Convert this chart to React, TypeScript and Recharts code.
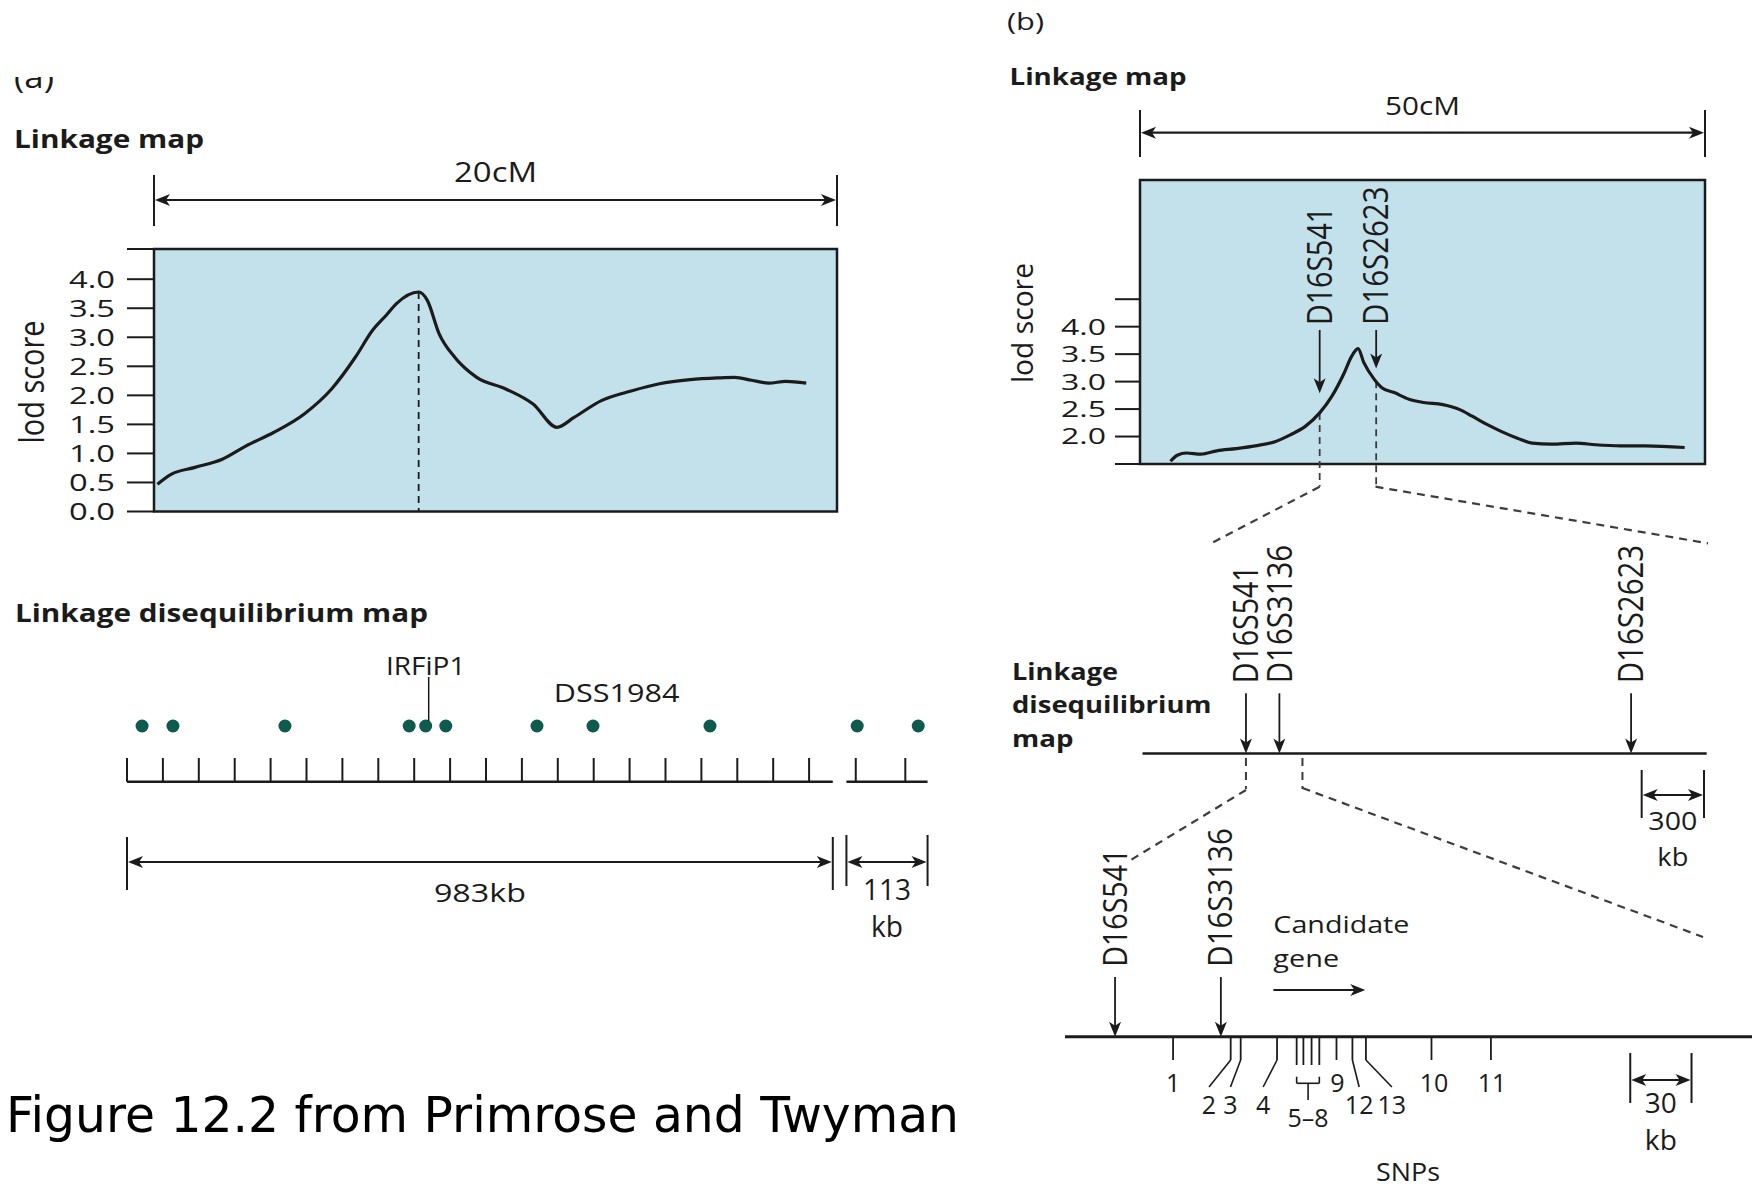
import React from "react";
import {
  LineChart,
  Line,
  ComposedChart,
  Scatter,
  XAxis,
  YAxis,
  CartesianGrid,
  ReferenceArea,
  ReferenceLine,
} from "recharts";

const W = 1752;
const H = 1190;
const FONT = "'Open Sans', 'Noto Sans', sans-serif";
const INK = "#1b1b1b";
const DASH_INK = "#3c3c3c";
const BOX_FILL = "#c3e1eb";
const DOT_FILL = "#0e5a4c";

// (a) linkage map: lod score along a 20 cM window
const cmA = [0.1, 0.5, 1.2, 2.0, 2.7, 3.5, 4.4, 5.2, 5.9, 6.4, 6.8, 7.1, 7.75, 8.0, 8.35, 8.8, 9.45, 10.3, 11.1, 11.8, 12.3, 13.1, 14.0, 14.8, 15.7, 16.5, 17.0, 17.5, 18.0, 18.5, 19.1];
const lodA = [0.47, 0.64, 0.76, 0.9, 1.13, 1.36, 1.68, 2.11, 2.66, 3.12, 3.38, 3.58, 3.78, 3.64, 3.06, 2.66, 2.31, 2.11, 1.85, 1.45, 1.62, 1.91, 2.08, 2.2, 2.27, 2.3, 2.31, 2.26, 2.21, 2.24, 2.21];
const lodTicksA = [0, 0.5, 1, 1.5, 2, 2.5, 3, 3.5, 4];
const lodTopA = 4.52;

// (a) linkage disequilibrium map, positions in kb
const ldDotsKbA = [21, 64, 220, 393, 416, 444, 571, 649, 812, 1017, 1102];
const ldRulerTicksA = [0, 50, 100, 150, 200, 250, 300, 350, 400, 450, 500, 550, 600, 650, 700, 750, 800, 850, 900, 950, 1015, 1084];
const ldSegmentsA = [
  [0, 983],
  [1002, 1115],
];
const ldNamesA = ["IRFiP1", "DSS1984"];
const ldNameKbA = [416, 682];
const ldNameLeaderA = [true, false];

// (b) linkage map: lod score along a 50 cM window
const cmB = [2.7, 3.3, 4.1, 5.4, 6.8, 8.5, 10.2, 12.0, 13.3, 14.6, 15.9, 17.0, 18.1, 18.7, 19.3, 19.8, 20.7, 21.4, 22.5, 23.8, 25.1, 26.8, 28.3, 29.4, 30.7, 32.0, 33.4, 34.7, 36.4, 38.6, 40.3, 42.5, 44.7, 48.2];
const lodB = [1.55, 1.66, 1.7, 1.68, 1.74, 1.78, 1.83, 1.91, 2.03, 2.18, 2.43, 2.74, 3.17, 3.45, 3.6, 3.35, 3.05, 2.89, 2.8, 2.68, 2.62, 2.58, 2.49, 2.37, 2.22, 2.09, 1.97, 1.88, 1.86, 1.88, 1.85, 1.83, 1.83, 1.8];
const lodTicksB = [2, 2.5, 3, 3.5, 4];
const lodMinB = 1.5;
const lodTopB = 6.67;
const lodBlankTickB = 4.5;
const markerNamesB = ["D16S541", "D16S2623"];
const markerCmB = [15.9, 20.9];
const markerTipLodB = [2.79, 3.24];

// (b) linkage disequilibrium map, positions in kb
const ldNamesB = ["D16S541", "D16S3136", "D16S2623"];
const ldKbB = [498, 659, 2352];
const ldWindowKbB = [498, 770];
const ldScaleKbB = [2403, 2703];

// (b) SNP map, positions in kb
const snpMarkerNames = ["D16S541", "D16S3136"];
const snpMarkerKb = [24.5, 76.3];
const snpIds = ["1", "2", "3", "4", "5", "6", "7", "8", "9", "10", "11", "12", "13"];
const snpKb = [52.9, 81.1, 86.0, 103.8, 113.4, 116.7, 120.7, 124.5, 132.9, 179.4, 208.5, 140.7, 147.3];
const snpLabelText = ["1", "2", "3", "4", "5–8", "9", "10", "11", "12", "13"];
const snpLabelKb = [52.9, 70.5, 81, 97, 119, 133.4, 180.6, 209, 144, 160];
const snpLabelRow = [1, 2, 2, 2, 3, 1, 1, 1, 2, 2];
const geneKb = [102, 147];
const snpScaleKb = [276.7, 306.7];

const lerp = (xs: number[], ys: number[], x: number) => {
  for (let i = 1; i < xs.length; i++) {
    if (x <= xs[i]) {
      const t = (x - xs[i - 1]) / (xs[i] - xs[i - 1]);
      return ys[i - 1] + t * (ys[i] - ys[i - 1]);
    }
  }
  return ys[ys.length - 1];
};

type TxtProps = {
  x: number;
  y: number;
  size: number;
  len?: number;
  anchor?: "start" | "middle" | "end";
  bold?: boolean;
  family?: string;
  children: React.ReactNode;
};

const Txt = ({ x, y, size, len, anchor = "start", bold, family = FONT, children }: TxtProps) => (
  <text
    x={x}
    y={y}
    fontSize={size}
    fontFamily={family}
    fontWeight={bold ? 700 : 400}
    textAnchor={anchor}
    fill={INK}
    textLength={len}
    lengthAdjust={len ? "spacingAndGlyphs" : undefined}
  >
    {children}
  </text>
);

// rotated text, reading bottom to top; bx is the baseline x
const VTxt = ({ bx, y, size, len, anchor = "start", children }: { bx: number; y: number; size: number; len: number; anchor?: "start" | "middle"; children: React.ReactNode }) => (
  <text
    x={bx}
    y={y}
    transform={`rotate(-90 ${bx} ${y})`}
    fontSize={size}
    fontFamily={FONT}
    textAnchor={anchor}
    fill={INK}
    textLength={len}
    lengthAdjust="spacingAndGlyphs"
  >
    {children}
  </text>
);

const vLen = (s: string) => s.length * 20.5 - 25.5;

const headLeft = (x: number, y: number) => `${x},${y} ${x + 15},${y - 6} ${x + 11},${y} ${x + 15},${y + 6}`;
const headRight = (x: number, y: number) => `${x},${y} ${x - 15},${y - 6} ${x - 11},${y} ${x - 15},${y + 6}`;
const headDown = (x: number, y: number) => `${x},${y} ${x - 6},${y - 15} ${x},${y - 11} ${x + 6},${y - 15}`;

type DimLabel = { t: string; dy: number; size: number; len: number };

// double-headed span arrow with end bars
const dimShape = (dy: number, above: number, below: number, labels: DimLabel[]) => (p: any) => {
  const y = p.y1 + dy;
  const { x1, x2 } = p;
  const mid = (x1 + x2) / 2;
  return (
    <g>
      <line x1={x1} y1={y - above} x2={x1} y2={y + below} stroke={INK} strokeWidth={2} />
      <line x1={x2} y1={y - above} x2={x2} y2={y + below} stroke={INK} strokeWidth={2} />
      <line x1={x1 + 8} y1={y} x2={x2 - 8} y2={y} stroke={INK} strokeWidth={2.2} />
      <polygon points={headLeft(x1 + 1, y)} fill={INK} />
      <polygon points={headRight(x2 - 1, y)} fill={INK} />
      {labels.map((l) => (
        <Txt key={l.t} x={mid} y={y + l.dy} size={l.size} len={l.len} anchor="middle">
          {l.t}
        </Txt>
      ))}
    </g>
  );
};

// down arrow (segment in data units) with its marker name above
const markerLine = (name: string, size: number, gap: number) => (p: any) => (
  <g>
    <line x1={p.x1} y1={p.y1} x2={p.x2} y2={p.y2 - 10} stroke={INK} strokeWidth={1.8} />
    <polygon points={headDown(p.x2, p.y2)} fill={INK} />
    <VTxt bx={p.x1 + size * 0.36} y={p.y1 - gap} size={size} len={vLen(name)}>
      {name}
    </VTxt>
  </g>
);

// down arrow ending on a map line point
const markerDot = (arrowLen: number, gap: number, size: number) => (p: any) => (
  <g>
    <line x1={p.cx} y1={p.cy - arrowLen} x2={p.cx} y2={p.cy - 10} stroke={INK} strokeWidth={1.8} />
    <polygon points={headDown(p.cx, p.cy)} fill={INK} />
    <VTxt bx={p.cx + size * 0.36} y={p.cy - arrowLen - gap} size={size} len={vLen(p.payload.name)}>
      {p.payload.name}
    </VTxt>
  </g>
);

const lodTick = (labels: number[], len: number, size: number) => (p: any) => {
  const v = p.payload.value;
  if (!labels.includes(v)) return <g />;
  return (
    <text x={p.x} y={p.y + size * 0.36} textAnchor="end" fontSize={size} fontFamily={FONT} fill={INK} textLength={len} lengthAdjust="spacingAndGlyphs">
      {v.toFixed(1)}
    </text>
  );
};

const Layer = ({ children }: { children: React.ReactNode }) => (
  <div style={{ position: "absolute", left: 0, top: 0, width: W, height: H }}>{children}</div>
);

const curveA = cmA.map((cm, i) => ({ cm, lod: lodA[i] }));
const peakA = lodA.indexOf(Math.max(...lodA));

function LinkageA() {
  return (
    <LineChart width={W} height={H} data={curveA} margin={{ top: 249, right: W - 837, bottom: H - 511.5, left: 0 }}>
      <CartesianGrid horizontal={false} vertical={false} fill={BOX_FILL} fillOpacity={1} stroke="none" />
      <XAxis type="number" dataKey="cm" domain={[0, 20]} hide />
      <YAxis
        type="number"
        domain={[0, lodTopA]}
        ticks={[...lodTicksA, lodTopA]}
        interval={0}
        width={154}
        tickSize={27}
        tickMargin={12}
        axisLine={false}
        tickLine={{ stroke: INK, strokeWidth: 2 }}
        tick={lodTick(lodTicksA, 46, 23.5)}
      />
      <ReferenceArea x1={0} x2={20} y1={0} y2={lodTopA} fill="none" stroke={INK} strokeWidth={2.5} ifOverflow="visible" />
      <ReferenceLine
        segment={[{ x: 0, y: lodTopA }, { x: 20, y: lodTopA }]}
        ifOverflow="visible"
        shape={dimShape(-49, 25, 26, [{ t: "20cM", dy: -18.3, size: 28, len: 83 }])}
      />
      <ReferenceLine
        segment={[{ x: cmA[peakA], y: lodA[peakA] }, { x: cmA[peakA], y: 0 }]}
        stroke={INK}
        strokeWidth={1.8}
        strokeDasharray="7 5"
      />
      <Line type="monotone" dataKey="lod" stroke={INK} strokeWidth={3.2} dot={false} isAnimationActive={false} />
    </LineChart>
  );
}

function LdMapA() {
  const BASE = 781.7;
  const TICK_TOP = 758;
  const DOT_Y = 726;
  const DIM_Y = 862;
  const dots = ldDotsKbA.map((kb) => ({ kb, y: DOT_Y }));
  const names = ldNamesA.map((name, i) => ({ kb: ldNameKbA[i], y: DOT_Y, name, leader: ldNameLeaderA[i] }));
  const spanLabels: DimLabel[][] = [
    [{ t: "983kb", dy: 39.7, size: 26, len: 92 }],
    [
      { t: "113", dy: 38, size: 29, len: 48 },
      { t: "kb", dy: 74.7, size: 29, len: 32 },
    ],
  ];
  return (
    <ComposedChart width={W} height={H} margin={{ top: 0, right: W - 929, bottom: 0, left: 127 }}>
      <XAxis type="number" dataKey="kb" domain={[0, 1117]} hide />
      <YAxis type="number" dataKey="y" domain={[0, H]} reversed hide />
      {ldSegmentsA.map(([a, b]) => (
        <ReferenceLine key={"s" + a} segment={[{ x: a, y: BASE }, { x: b, y: BASE }]} stroke={INK} strokeWidth={2.5} ifOverflow="visible" />
      ))}
      {ldRulerTicksA.map((t) => (
        <ReferenceLine key={"t" + t} segment={[{ x: t, y: BASE }, { x: t, y: TICK_TOP }]} stroke={INK} strokeWidth={2} ifOverflow="visible" />
      ))}
      {ldSegmentsA.map(([a, b], i) => (
        <ReferenceLine
          key={"d" + a}
          segment={[{ x: a, y: DIM_Y }, { x: b, y: DIM_Y }]}
          ifOverflow="visible"
          shape={dimShape(0, i === 0 ? 25 : 27, i === 0 ? 28 : 24, spanLabels[i])}
        />
      ))}
      <Scatter data={dots} isAnimationActive={false} shape={(p: any) => <circle cx={p.cx} cy={p.cy} r={6.5} fill={DOT_FILL} />} />
      <Scatter
        data={names}
        isAnimationActive={false}
        shape={(p: any) =>
          p.payload.leader ? (
            <g>
              <line x1={p.cx + 3} y1={p.cy - 49} x2={p.cx + 3} y2={p.cy - 5} stroke={INK} strokeWidth={1.5} />
              <Txt x={p.cx} y={p.cy - 51} size={25} len={79.5} anchor="middle">
                {p.payload.name}
              </Txt>
            </g>
          ) : (
            <Txt x={p.cx} y={p.cy - 24.3} size={25} len={125.6} anchor="middle">
              {p.payload.name}
            </Txt>
          )
        }
      />
    </ComposedChart>
  );
}

const curveB = cmB.map((cm, i) => ({ cm, lod: lodB[i] }));

function LinkageB() {
  const ARROW_TOP = 3.94;
  const DROP_END = 1.09;
  return (
    <LineChart width={W} height={H} data={curveB} margin={{ top: 180, right: W - 1705, bottom: H - 464, left: 0 }}>
      <CartesianGrid horizontal={false} vertical={false} fill={BOX_FILL} fillOpacity={1} stroke="none" />
      <XAxis type="number" dataKey="cm" domain={[0, 50]} hide />
      <YAxis
        type="number"
        domain={[lodMinB, lodTopB]}
        ticks={[lodMinB, ...lodTicksB, lodBlankTickB]}
        interval={0}
        width={1140}
        tickSize={25}
        tickMargin={9}
        axisLine={false}
        tickLine={{ stroke: INK, strokeWidth: 2 }}
        tick={lodTick(lodTicksB, 45, 22)}
      />
      <ReferenceArea x1={0} x2={50} y1={lodMinB} y2={lodTopB} fill="none" stroke={INK} strokeWidth={2.5} ifOverflow="visible" />
      <ReferenceLine
        segment={[{ x: 0, y: lodTopB }, { x: 50, y: lodTopB }]}
        ifOverflow="visible"
        shape={dimShape(-47.3, 22.7, 24.3, [{ t: "50cM", dy: -17.7, size: 25.5, len: 75 }])}
      />
      {markerCmB.map((cm) => (
        <ReferenceLine
          key={"drop" + cm}
          segment={[{ x: cm, y: lerp(cmB, lodB, cm) }, { x: cm, y: DROP_END }]}
          ifOverflow="visible"
          stroke={DASH_INK}
          strokeWidth={1.8}
          strokeDasharray="7 5"
        />
      ))}
      {markerCmB.map((cm, i) => (
        <ReferenceLine
          key={"m" + cm}
          segment={[{ x: cm, y: ARROW_TOP }, { x: cm, y: markerTipLodB[i] }]}
          ifOverflow="visible"
          shape={markerLine(markerNamesB[i], 34, 5)}
        />
      ))}
      <Line type="monotone" dataKey="lod" stroke={INK} strokeWidth={3.2} dot={false} isAnimationActive={false} />
    </LineChart>
  );
}

function LdMapB() {
  const BASE = 753.5;
  const markers = ldNamesB.map((name, i) => ({ kb: ldKbB[i], y: BASE, name }));
  return (
    <ComposedChart width={W} height={H} margin={{ top: 0, right: W - 1706.7, bottom: 0, left: 1142.5 }}>
      <XAxis type="number" dataKey="kb" domain={[0, 2716]} hide />
      <YAxis type="number" dataKey="y" domain={[0, H]} reversed hide />
      <ReferenceLine segment={[{ x: 0, y: BASE }, { x: 2716, y: BASE }]} stroke={INK} strokeWidth={2.6} ifOverflow="visible" />
      {ldWindowKbB.map((kb) => (
        <ReferenceLine
          key={"w" + kb}
          segment={[{ x: kb, y: 758 }, { x: kb, y: 789 }]}
          stroke={DASH_INK}
          strokeWidth={2}
          strokeDasharray="8 6"
          ifOverflow="visible"
        />
      ))}
      <ReferenceLine
        segment={[{ x: ldScaleKbB[0], y: 795 }, { x: ldScaleKbB[1], y: 795 }]}
        ifOverflow="visible"
        shape={dimShape(0, 25, 23, [
          { t: "300", dy: 35, size: 25.5, len: 49 },
          { t: "kb", dy: 70.5, size: 26, len: 31 },
        ])}
      />
      <Scatter data={markers} isAnimationActive={false} shape={markerDot(60.2, 10, 34)} />
    </ComposedChart>
  );
}

function SnpMap() {
  const BASE = 1036.7;
  const ROW_Y: Record<number, number> = { 1: 1092, 2: 1114, 3: 1127 };
  const group = ["5", "6", "7", "8"];
  const snps = snpIds.map((id, i) => ({ kb: snpKb[i], y: BASE, id }));
  const labels = snpLabelText.map((t, i) => ({ kb: snpLabelKb[i], y: ROW_Y[snpLabelRow[i]], t }));
  const leaders = snpLabelText
    .map((t, i) => ({ t, i }))
    .filter((l) => snpLabelRow[l.i] === 2)
    .map((l) => ({ from: snpKb[snpIds.indexOf(l.t)], to: snpLabelKb[l.i] }));
  const g0 = snpKb[snpIds.indexOf("5")];
  const g1 = snpKb[snpIds.indexOf("8")];
  const gMid = snpLabelKb[snpLabelText.indexOf("5–8")];
  const markers = snpMarkerNames.map((name, i) => ({ kb: snpMarkerKb[i], y: BASE, name }));
  const thin = { stroke: INK, strokeWidth: 1.6, ifOverflow: "visible" as const };
  return (
    <ComposedChart width={W} height={H} margin={{ top: 0, right: 0, bottom: 0, left: 1065 }}>
      <XAxis type="number" dataKey="kb" domain={[0, 336.3]} hide />
      <YAxis type="number" dataKey="y" domain={[0, H]} reversed hide />
      <ReferenceLine segment={[{ x: 0, y: BASE }, { x: 336.3, y: BASE }]} stroke={INK} strokeWidth={3} ifOverflow="visible" />
      {leaders.map((l) => (
        <ReferenceLine key={"l" + l.from} segment={[{ x: l.from, y: 1060 }, { x: l.to, y: 1087 }]} {...thin} />
      ))}
      <ReferenceLine segment={[{ x: g0, y: 1083.3 }, { x: g1, y: 1083.3 }]} {...thin} />
      <ReferenceLine segment={[{ x: g0, y: 1076.7 }, { x: g0, y: 1083.3 }]} {...thin} />
      <ReferenceLine segment={[{ x: g1, y: 1076.7 }, { x: g1, y: 1083.3 }]} {...thin} />
      <ReferenceLine segment={[{ x: gMid, y: 1083.3 }, { x: gMid, y: 1100 }]} {...thin} />
      <ReferenceLine
        segment={[{ x: geneKb[0], y: 990 }, { x: geneKb[1], y: 990 }]}
        ifOverflow="visible"
        shape={(p: any) => (
          <g>
            <line x1={p.x1} y1={p.y1} x2={p.x2 - 8} y2={p.y2} stroke={INK} strokeWidth={2.2} />
            <polygon points={headRight(p.x2, p.y2)} fill={INK} />
            <Txt x={p.x1} y={p.y1 - 56.7} size={23.5} len={136}>
              Candidate
            </Txt>
            <Txt x={p.x1} y={p.y1 - 23.3} size={23.5} len={65.8}>
              gene
            </Txt>
          </g>
        )}
      />
      <ReferenceLine
        segment={[{ x: snpScaleKb[0], y: 1080 }, { x: snpScaleKb[1], y: 1080 }]}
        ifOverflow="visible"
        shape={dimShape(0, 27, 23, [
          { t: "30", dy: 33, size: 27, len: 32 },
          { t: "kb", dy: 70, size: 27, len: 32 },
        ])}
      />
      <Scatter
        data={snps}
        isAnimationActive={false}
        shape={(p: any) => (
          <line x1={p.cx} y1={p.cy} x2={p.cx} y2={p.cy + (group.includes(p.payload.id) ? 28.3 : 23.3)} stroke={INK} strokeWidth={1.8} />
        )}
      />
      <Scatter
        data={labels}
        isAnimationActive={false}
        shape={(p: any) => (
          <Txt x={p.cx} y={p.cy} size={25} anchor="middle">
            {p.payload.t}
          </Txt>
        )}
      />
      <Scatter data={markers} isAnimationActive={false} shape={markerDot(59.7, 10.3, 32)} />
    </ComposedChart>
  );
}

function Overlay() {
  const dash = { stroke: DASH_INK, strokeWidth: 2.2, strokeDasharray: "8 6" };
  return (
    <svg width={W} height={H} style={{ position: "absolute", left: 0, top: 0 }}>
      <defs>
        <clipPath id="clipA">
          <rect x={0} y={77} width={120} height={40} />
        </clipPath>
      </defs>
      <g clipPath="url(#clipA)">
        <Txt x={14} y={88} size={31} len={40}>
          (a)
        </Txt>
      </g>
      <Txt x={14} y={147.5} size={25} len={190} bold>
        Linkage map
      </Txt>
      <VTxt bx={44} y={382} size={34} len={123} anchor="middle">
        lod score
      </VTxt>
      <Txt x={15} y={621.7} size={25} len={413} bold>
        Linkage disequilibrium map
      </Txt>

      <Txt x={1007} y={30} size={24} len={37}>
        (b)
      </Txt>
      <Txt x={1009.5} y={85} size={24} len={177} bold>
        Linkage map
      </Txt>
      <VTxt bx={1033.3} y={323} size={28.5} len={120} anchor="middle">
        lod score
      </VTxt>
      <Txt x={1012} y={680} size={23.5} len={106} bold>
        Linkage
      </Txt>
      <Txt x={1012} y={713.3} size={23.5} len={199.4} bold>
        disequilibrium
      </Txt>
      <Txt x={1012} y={746.7} size={23.5} len={61.5} bold>
        map
      </Txt>
      <Txt x={1408} y={1181} size={25} len={64} anchor="middle">
        SNPs
      </Txt>

      <line x1={1319.6} y1={486.7} x2={1208} y2={545} {...dash} />
      <line x1={1375.5} y1={486.7} x2={1708} y2={543.3} {...dash} />
      <line x1={1246} y1={790} x2={1130.8} y2={860} {...dash} />
      <line x1={1302.5} y1={788} x2={1703} y2={937} {...dash} />

      <text x={6} y={1131.7} fontSize={50} fontFamily="'DejaVu Sans', sans-serif" fill="#000" textLength={953} lengthAdjust="spacingAndGlyphs">
        Figure 12.2 from Primrose and Twyman
      </text>
    </svg>
  );
}

export default function App() {
  return (
    <div style={{ position: "absolute", left: 0, top: 0, width: W, height: H, background: "#fff", overflow: "hidden" }}>
      <Layer>
        <LinkageA />
      </Layer>
      <Layer>
        <LdMapA />
      </Layer>
      <Layer>
        <LinkageB />
      </Layer>
      <Layer>
        <LdMapB />
      </Layer>
      <Layer>
        <SnpMap />
      </Layer>
      <Overlay />
    </div>
  );
}
